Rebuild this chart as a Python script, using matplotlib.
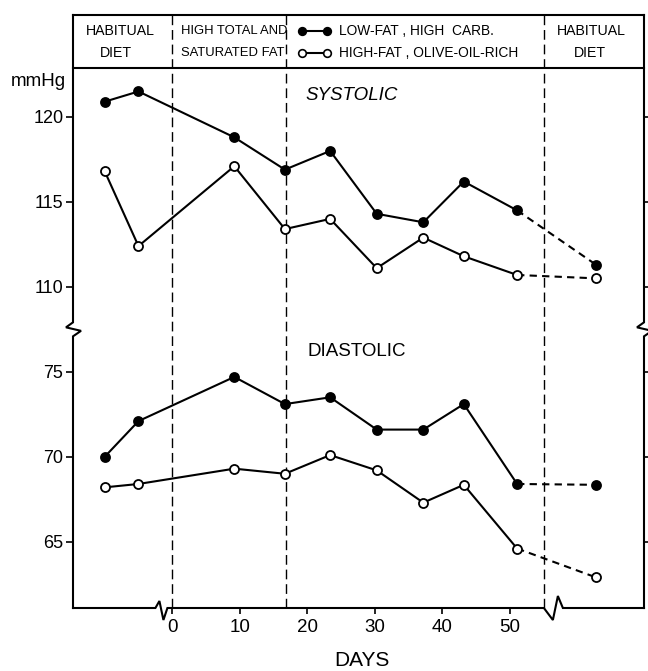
import matplotlib
matplotlib.use('Agg')
import matplotlib.pyplot as plt
import numpy as np

plt.rcParams['font.family'] = ['Liberation Sans', 'DejaVu Sans']

# x position of each visit (first two = habitual diet before day 0, last = after the break)
days = [-10, -5, 9.2, 16.7, 23.4, 30.3, 37.2, 43.2, 51.1, 62.8]

sys_lowfat = [120.9, 121.5, 118.8, 116.9, 118.0, 114.3, 113.8, 116.2, 114.5, 111.3]
sys_olive = [116.8, 112.4, 117.1, 113.4, 114.0, 111.1, 112.9, 111.8, 110.7, 110.5]
dia_lowfat = [70.0, 72.1, 74.7, 73.1, 73.5, 71.6, 71.6, 73.1, 68.4, 68.35]
dia_olive = [68.2, 68.4, 69.3, 69.0, 70.1, 69.2, 67.3, 68.35, 64.6, 62.9]

sys_ticks = [110, 115, 120]
dia_ticks = [65, 70, 75]
day_ticks = [0, 10, 20, 30, 40, 50]
diet_switch = [0, 16.8, 55.1]

SYS_SHIFT = 30  # systolic drawn 30 mmHg lower (broken y axis)

W, H = 648, 671
AX_L, AX_R, AX_T, AX_B = 73, 644, 15, 608   # axes box in pixels

fig = plt.figure(figsize=(W / 100, H / 100), dpi=100)
ax = fig.add_axes([AX_L / W, 1 - AX_B / H, (AX_R - AX_L) / W, (AX_B - AX_T) / H])
x0, x1 = -14.7, 69.9
y0, y1 = 61.1, 96.0
ax.set_xlim(x0, x1)
ax.set_ylim(y0, y1)
for s in ax.spines.values():
    s.set_visible(False)

px = (x1 - x0) / (AX_R - AX_L)   # data units per pixel
py = (y1 - y0) / (AX_B - AX_T)
y_head = 92.9
y_brk = 77.5

lw = 1.5
kw = dict(color='black', lw=lw, clip_on=False, solid_joinstyle='miter')


def frac(xp, yp):
    return (xp - AX_L) / (AX_R - AX_L), (AX_B - yp) / (AX_B - AX_T)


# frame with breaks
zig_y = [(0, -7), (8, -1.5), (-7, 2), (0, 7)]
for xe in (x0, x1):
    xs = [xe, xe] + [xe + dx * px for dx, dy in zig_y] + [xe]
    ys = [y0, y_brk + zig_y[0][1] * py] + [y_brk + dy * py for dx, dy in zig_y] + [y1]
    ax.plot(xs, ys, **kw)

brk1, brk2 = -1.6, 56.4
z1 = [(-6, 0), (-2, 7), (2, -12), (6, 0)]
z2 = [(-9, 0), (0, -12), (5, 12), (10, 0)]
bx = [x0] + [brk1 + dx * px for dx, dy in z1] + [brk2 + dx * px for dx, dy in z2] + [x1]
by = [y0] + [y0 + dy * py for dx, dy in z1] + [y0 + dy * py for dx, dy in z2] + [y0]
ax.plot(bx, by, **kw)
ax.plot([x0, x1], [y1, y1], **kw)
ax.plot([x0, x1], [y_head, y_head], **kw)

for d in diet_switch:
    ax.plot([d, d], [y0, y1], color='black', lw=1.0, dashes=(7, 3.5), clip_on=False)

# data
def series(vals, filled, shift=0):
    v = np.array(vals) - shift
    ax.plot(days[:9], v[:9], color='black', lw=lw, zorder=3)
    ax.plot(days[8:], v[8:], color='black', lw=lw, dashes=(3.5, 2.5), zorder=3)
    ax.plot(days, v, 'o', ms=6.5, mec='black', mew=1.3,
            mfc='black' if filled else 'white', zorder=4)


series(sys_lowfat, True, SYS_SHIFT)
series(sys_olive, False, SYS_SHIFT)
series(dia_lowfat, True)
series(dia_olive, False)

# ticks
ax.set_yticks([t - SYS_SHIFT for t in sys_ticks] + dia_ticks)
ax.set_yticklabels([str(t) for t in sys_ticks + dia_ticks])
ax.set_xticks(day_ticks)
ax.set_xticklabels([str(t) for t in day_ticks])
ax.tick_params(axis='y', direction='out', length=5, width=1.2, labelsize=13, pad=2,
               right=True)
ax.tick_params(axis='x', direction='out', length=4, width=1.2, labelsize=13.5, pad=4)

# texts in the header
t = dict(transform=ax.transAxes, va='center')
ax.text(*frac(120, 31), 'HABITUAL', ha='center', fontsize=10.2, **t)
ax.text(*frac(116, 53), 'DIET', ha='center', fontsize=10.2, **t)
ax.text(*frac(181, 31), 'HIGH TOTAL AND', ha='left', fontsize=9.4, **t)
ax.text(*frac(181, 53), 'SATURATED FAT', ha='left', fontsize=9.4, **t)
ax.text(*frac(339, 31), 'LOW-FAT , HIGH  CARB.', ha='left', fontsize=9.9, **t)
ax.text(*frac(339, 53), 'HIGH-FAT , OLIVE-OIL-RICH', ha='left', fontsize=9.9, **t)
ax.text(*frac(591, 31), 'HABITUAL', ha='center', fontsize=10.2, **t)
ax.text(*frac(590, 53), 'DIET', ha='center', fontsize=10.2, **t)

# legend glyphs in the header
for yp, fc in ((31, 'black'), (53, 'white')):
    gx = [x0 + (302 - AX_L) * px, x0 + (327 - AX_L) * px]
    gy = [y1 - (yp - AX_T) * py] * 2
    ax.plot(gx, gy, '-o', color='black', lw=lw, ms=5.5, mfc=fc, mec='black',
            mew=1.2, clip_on=False)

ax.text(*frac(66, 82), 'mmHg', ha='right', va='center', fontsize=13.5,
        transform=ax.transAxes)
ax.text(*frac(352, 95), 'SYSTOLIC', ha='center', va='center', fontsize=13.5,
        style='italic', transform=ax.transAxes)
ax.text(*frac(357, 351), 'DIASTOLIC', ha='center', va='center', fontsize=13.5,
        transform=ax.transAxes)
ax.text(*frac(362, 660), 'DAYS', ha='center', va='center', fontsize=15,
        transform=ax.transAxes)

fig.savefig('out.png', dpi=100)
